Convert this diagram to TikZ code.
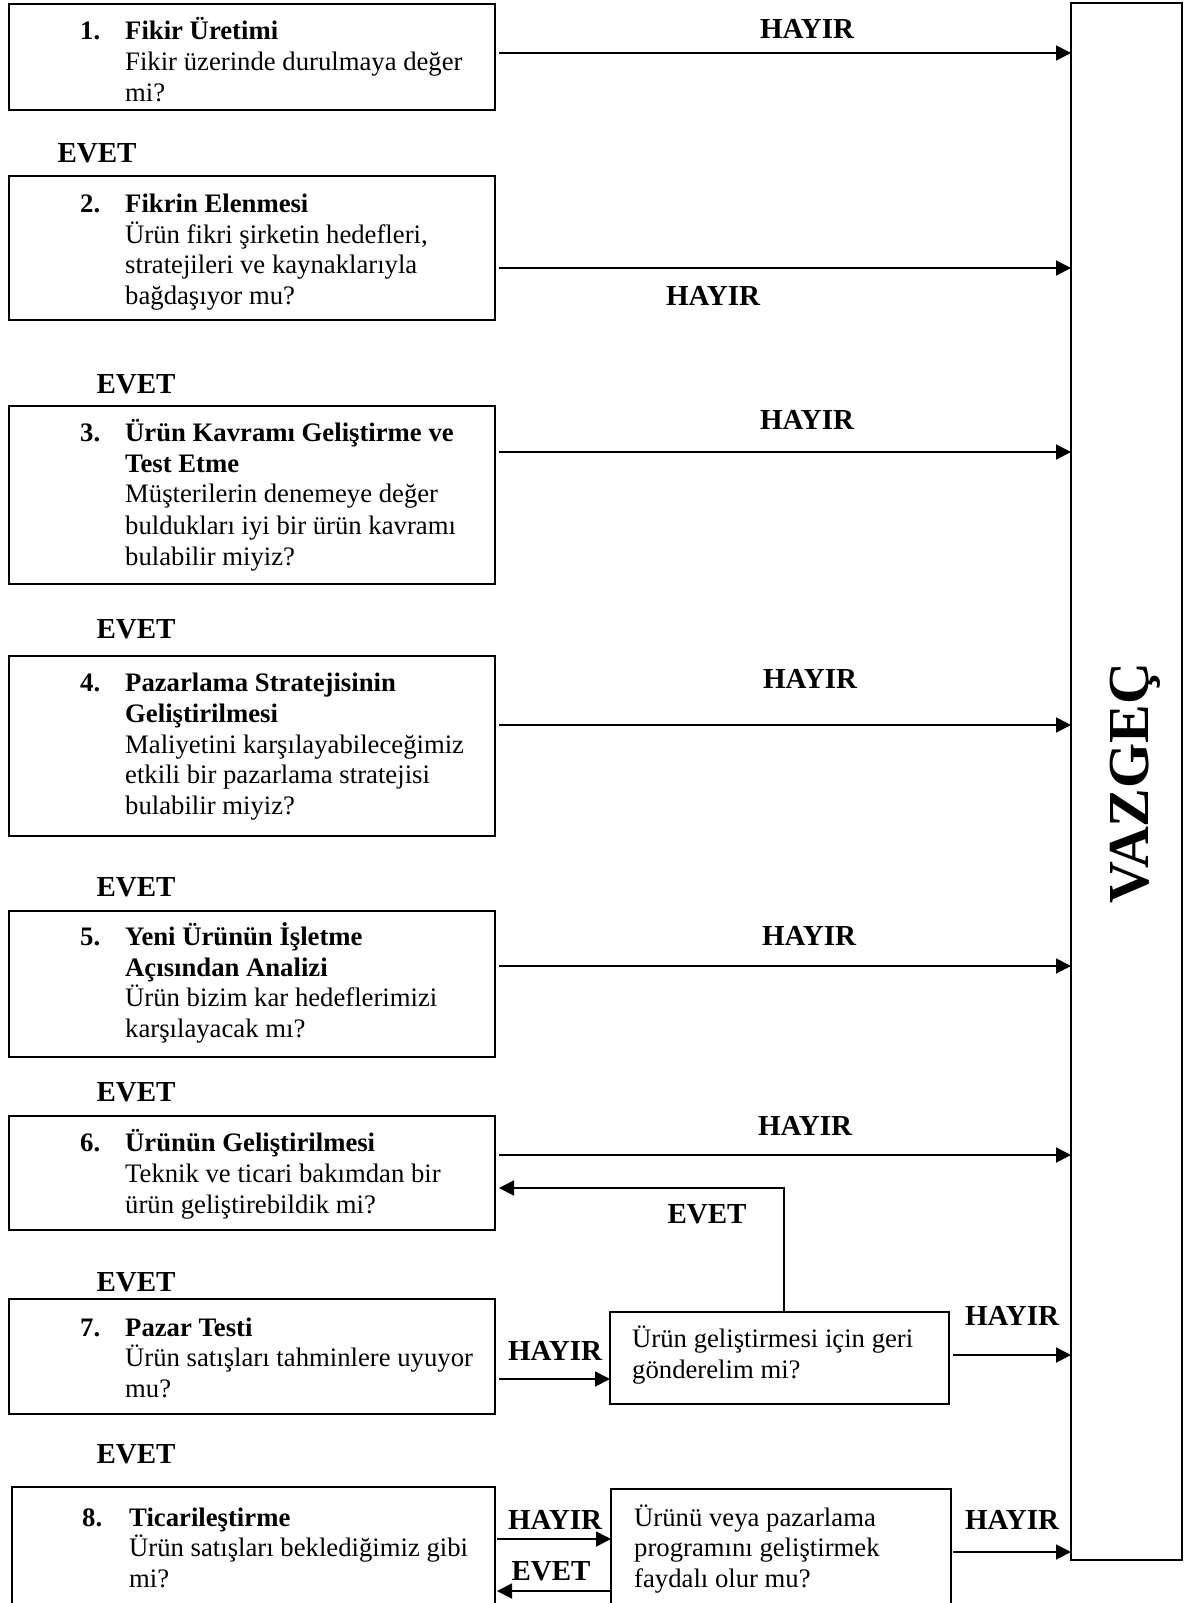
\documentclass[tikz,border=0pt]{standalone}
\usepackage{fontspec}
\setmainfont{Liberation Serif}
\usetikzlibrary{arrows.meta}
\begin{document}
\begin{tikzpicture}[x=1pt,y=-1pt,
  box/.style={draw,line width=1.8pt,anchor=north west,inner sep=0,outer sep=0},
  txt/.style={anchor=base west,inner sep=0,font=\fontsize{26.7}{30.7}\selectfont},
  btxt/.style={txt,font=\fontsize{26.7}{30.7}\selectfont\bfseries},
  lbl/.style={inner sep=0,font=\fontsize{29}{31}\selectfont\bfseries},
  arr/.style={line width=1.8pt,-{Triangle[length=15pt,width=15pt]}}]
\useasboundingbox (0,0) rectangle (1194,1603);
\clip (0,0) rectangle (1194,1603);
% boxes
\node[box,minimum width=486pt,minimum height=106pt] (b1) at (9,4) {};
\node[box,minimum width=486pt,minimum height=144pt] (b2) at (9,176) {};
\node[box,minimum width=486pt,minimum height=178pt] (b3) at (9,406) {};
\node[box,minimum width=486pt,minimum height=180pt] (b4) at (9,656) {};
\node[box,minimum width=486pt,minimum height=146pt] (b5) at (9,911) {};
\node[box,minimum width=486pt,minimum height=114pt] (b6) at (9,1116) {};
\node[box,minimum width=486pt,minimum height=115pt] (b7) at (9,1299) {};
\node[box,minimum width=483pt,minimum height=140pt] (b8) at (12,1487) {};
\node[box,minimum width=339pt,minimum height=92pt] (bA) at (610,1312) {};
\node[box,minimum width=340pt,minimum height=140pt] (bB) at (611,1489) {};
\node[box,minimum width=111pt,minimum height=1557pt] (vaz) at (1071,3) {};
\node[rotate=90,inner sep=0,font=\fontsize{58}{60}\selectfont\bfseries] (vazt) at (1135,783) {VAZGEÇ};
% box texts
\node[btxt] (n1) at (80,39.7) {1.};
\node[btxt] (t1a) at (125,39.7) {Fikir Üretimi};
\node[txt] (t1b) at (125,70.3) {Fikir üzerinde durulmaya değer};
\node[txt] (t1c) at (125,101) {mi?};
\node[btxt] (n2) at (80,212.4) {2.};
\node[btxt] (t2a) at (125,212.4) {Fikrin Elenmesi};
\node[txt] (t2b) at (125,243.1) {Ürün fikri şirketin hedefleri,};
\node[txt] (t2c) at (125,273.8) {stratejileri ve kaynaklarıyla};
\node[txt] (t2d) at (125,304.4) {bağdaşıyor mu?};
\node[btxt] (n3) at (80,441.4) {3.};
\node[btxt] (t3a) at (125,441.4) {Ürün Kavramı Geliştirme ve};
\node[btxt] (t3b) at (125,472.1) {Test Etme};
\node[txt] (t3c) at (125,502.8) {Müşterilerin denemeye değer};
\node[txt] (t3d) at (125,534.5) {buldukları iyi bir ürün kavramı};
\node[txt] (t3e) at (125,565.1) {bulabilir miyiz?};
\node[btxt] (n4) at (80,691.9) {4.};
\node[btxt] (t4a) at (125,691.9) {Pazarlama Stratejisinin};
\node[btxt] (t4b) at (125,722.6) {Geliştirilmesi};
\node[txt] (t4c) at (125,753.2) {Maliyetini karşılayabileceğimiz};
\node[txt] (t4d) at (125,783.9) {etkili bir pazarlama stratejisi};
\node[txt] (t4e) at (125,814.6) {bulabilir miyiz?};
\node[btxt] (n5) at (80,945.4) {5.};
\node[btxt] (t5a) at (125,945.4) {Yeni Ürünün İşletme};
\node[btxt] (t5b) at (125,976.1) {Açısından Analizi};
\node[txt] (t5c) at (125,1006.8) {Ürün bizim kar hedeflerimizi};
\node[txt] (t5d) at (125,1037.4) {karşılayacak mı?};
\node[btxt] (n6) at (80,1151.9) {6.};
\node[btxt] (t6a) at (125,1151.9) {Ürünün Geliştirilmesi};
\node[txt] (t6b) at (125,1182.6) {Teknik ve ticari bakımdan bir};
\node[txt] (t6c) at (125,1213.3) {ürün geliştirebildik mi?};
\node[btxt] (n7) at (80,1336) {7.};
\node[btxt] (t7a) at (125,1336) {Pazar Testi};
\node[txt] (t7b) at (125,1366.6) {Ürün satışları tahminlere uyuyor};
\node[txt] (t7c) at (125,1397.3) {mu?};
\node[btxt] (n8) at (82,1526) {8.};
\node[btxt] (t8a) at (129,1526) {Ticarileştirme};
\node[txt] (t8b) at (129,1556.8) {Ürün satışları beklediğimiz gibi};
\node[txt] (t8c) at (129,1587.4) {mi?};
\node[txt] (tAa) at (632,1347.2) {Ürün geliştirmesi için geri};
\node[txt] (tAb) at (632,1378.9) {gönderelim mi?};
\node[txt] (tBa) at (634,1526) {Ürünü veya pazarlama};
\node[txt] (tBb) at (634,1556.8) {programını geliştirmek};
\node[txt] (tBc) at (634,1587.4) {faydalı olur mu?};
% labels
\node[lbl] (l1) at (807,29) {HAYIR};
\node[lbl] (e1) at (97,153) {EVET};
\node[lbl] (l2) at (713,296) {HAYIR};
\node[lbl] (e2) at (136,384) {EVET};
\node[lbl] (l3) at (807,420) {HAYIR};
\node[lbl] (e3) at (136,629) {EVET};
\node[lbl] (l4) at (810,679) {HAYIR};
\node[lbl] (e4) at (136,887) {EVET};
\node[lbl] (l5) at (809,936) {HAYIR};
\node[lbl] (e5) at (136,1092) {EVET};
\node[lbl] (l6) at (805,1126) {HAYIR};
\node[lbl] (efb) at (707,1214) {EVET};
\node[lbl] (e6) at (136,1282) {EVET};
\node[lbl] (l7) at (555,1351) {HAYIR};
\node[lbl] (lA) at (1012,1316) {HAYIR};
\node[lbl] (e7) at (136,1454) {EVET};
\node[lbl] (l8) at (555,1520) {HAYIR};
\node[lbl] (e8l) at (551,1571) {EVET};
\node[lbl] (lB) at (1012,1520) {HAYIR};
% connectors
\coordinate (h1) at (499,53);
\coordinate (h2) at (499,268);
\coordinate (h3) at (499,452);
\coordinate (h4) at (499,725);
\coordinate (h5) at (499,966);
\coordinate (h6) at (499,1155);
\coordinate (h7) at (499,1379);
\coordinate (hA) at (953,1355);
\coordinate (h8) at (497,1539);
\coordinate (e8) at (497,1591);
\coordinate (hB) at (953,1552);
\coordinate (fb) at (784,1188);
\coordinate (fbt) at (499,1188);
\draw[arr] (h1) -- (vaz.west |- h1);
\draw[arr] (h2) -- (vaz.west |- h2);
\draw[arr] (h3) -- (vaz.west |- h3);
\draw[arr] (h4) -- (vaz.west |- h4);
\draw[arr] (h5) -- (vaz.west |- h5);
\draw[arr] (h6) -- (vaz.west |- h6);
\draw[arr] (h7) -- (bA.west |- h7);
\draw[arr] (hA) -- (vaz.west |- hA);
\draw[arr] (h8) -- (bB.west |- h8);
\draw[arr] (bB.west |- e8) -- (e8);
\draw[arr] (hB) -- (vaz.west |- hB);
\draw[arr] (fb |- bA.north) -- (fb) -- (fbt);
\end{tikzpicture}
\end{document}
